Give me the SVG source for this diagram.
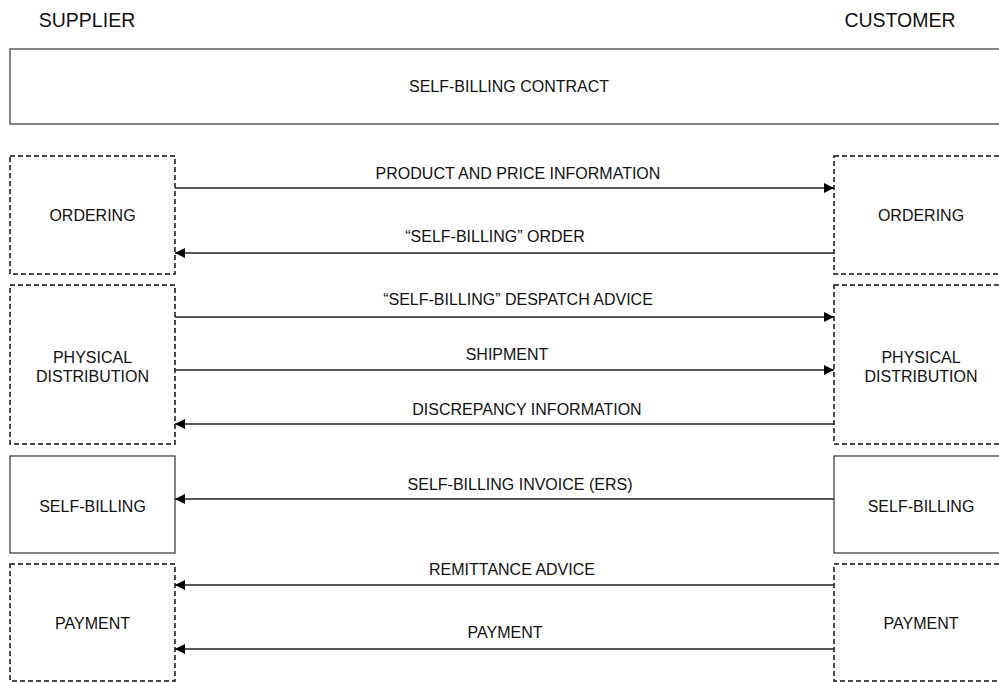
<svg xmlns="http://www.w3.org/2000/svg" width="999" height="682" viewBox="0 0 999 682">
  <style>
    text { font-family: "Liberation Sans", Arial, sans-serif; font-size: 16px; fill: #111; text-anchor: middle; }
    .title { font-size: 19.5px; }
    .dashed { fill: #fff; stroke: #111; stroke-width: 1.5; stroke-dasharray: 5 3; }
    .solid { fill: #fff; stroke: #333; stroke-width: 1.2; }
    .flow { stroke: #222; stroke-width: 1.3; fill: none; marker-end: url(#head); }
  </style>
  <defs>
    <marker id="head" viewBox="0 0 10 10" refX="10" refY="5" markerWidth="10" markerHeight="10" markerUnits="userSpaceOnUse" orient="auto">
      <path d="M0,0 L10,5 L0,10 Z" fill="#000"/>
    </marker>
  </defs>
  <rect width="999" height="682" fill="#fff"/>

  <text class="title" x="87" y="27">SUPPLIER</text>
  <text class="title" x="900" y="27">CUSTOMER</text>

  <g id="contract">
    <rect class="solid" x="10" y="49" width="1000" height="75"/>
    <text x="509" y="92">SELF-BILLING CONTRACT</text>
  </g>

  <!-- supplier side -->
  <g id="supplier-ordering">
    <rect class="dashed" x="10" y="156" width="165" height="118"/>
    <text x="92.5" y="221">ORDERING</text>
  </g>
  <g id="supplier-distribution">
    <rect class="dashed" x="10" y="285" width="165" height="159"/>
    <text x="92.5" y="363">PHYSICAL</text>
    <text x="92.5" y="382">DISTRIBUTION</text>
  </g>
  <g id="supplier-selfbilling">
    <rect class="solid" x="10" y="456" width="165" height="97"/>
    <text x="92.5" y="512">SELF-BILLING</text>
  </g>
  <g id="supplier-payment">
    <rect class="dashed" x="10" y="564" width="165" height="117"/>
    <text x="92.5" y="629">PAYMENT</text>
  </g>

  <!-- customer side -->
  <g id="customer-ordering">
    <rect class="dashed" x="834" y="156" width="175" height="118"/>
    <text x="921" y="221">ORDERING</text>
  </g>
  <g id="customer-distribution">
    <rect class="dashed" x="834" y="285" width="175" height="159"/>
    <text x="921" y="363">PHYSICAL</text>
    <text x="921" y="382">DISTRIBUTION</text>
  </g>
  <g id="customer-selfbilling">
    <rect class="solid" x="834" y="456" width="175" height="97"/>
    <text x="921" y="512">SELF-BILLING</text>
  </g>
  <g id="customer-payment">
    <rect class="dashed" x="834" y="564" width="175" height="117"/>
    <text x="921" y="629">PAYMENT</text>
  </g>

  <!-- message flows -->
  <g id="connectors">
    <line class="flow" x1="175" y1="188" x2="834" y2="188"/>
    <text x="518" y="179">PRODUCT AND PRICE INFORMATION</text>
    <line class="flow" x1="834" y1="253" x2="175" y2="253"/>
    <text x="495" y="242">“SELF-BILLING” ORDER</text>
    <line class="flow" x1="175" y1="317" x2="834" y2="317"/>
    <text x="518" y="305">“SELF-BILLING” DESPATCH ADVICE</text>
    <line class="flow" x1="175" y1="370" x2="834" y2="370"/>
    <text x="507" y="360">SHIPMENT</text>
    <line class="flow" x1="834" y1="424" x2="175" y2="424"/>
    <text x="527" y="415">DISCREPANCY INFORMATION</text>
    <line class="flow" x1="834" y1="499" x2="175" y2="499"/>
    <text x="520" y="490">SELF-BILLING INVOICE (ERS)</text>
    <line class="flow" x1="834" y1="585" x2="175" y2="585"/>
    <text x="512" y="575">REMITTANCE ADVICE</text>
    <line class="flow" x1="834" y1="649" x2="175" y2="649"/>
    <text x="505" y="638">PAYMENT</text>
  </g>
</svg>
